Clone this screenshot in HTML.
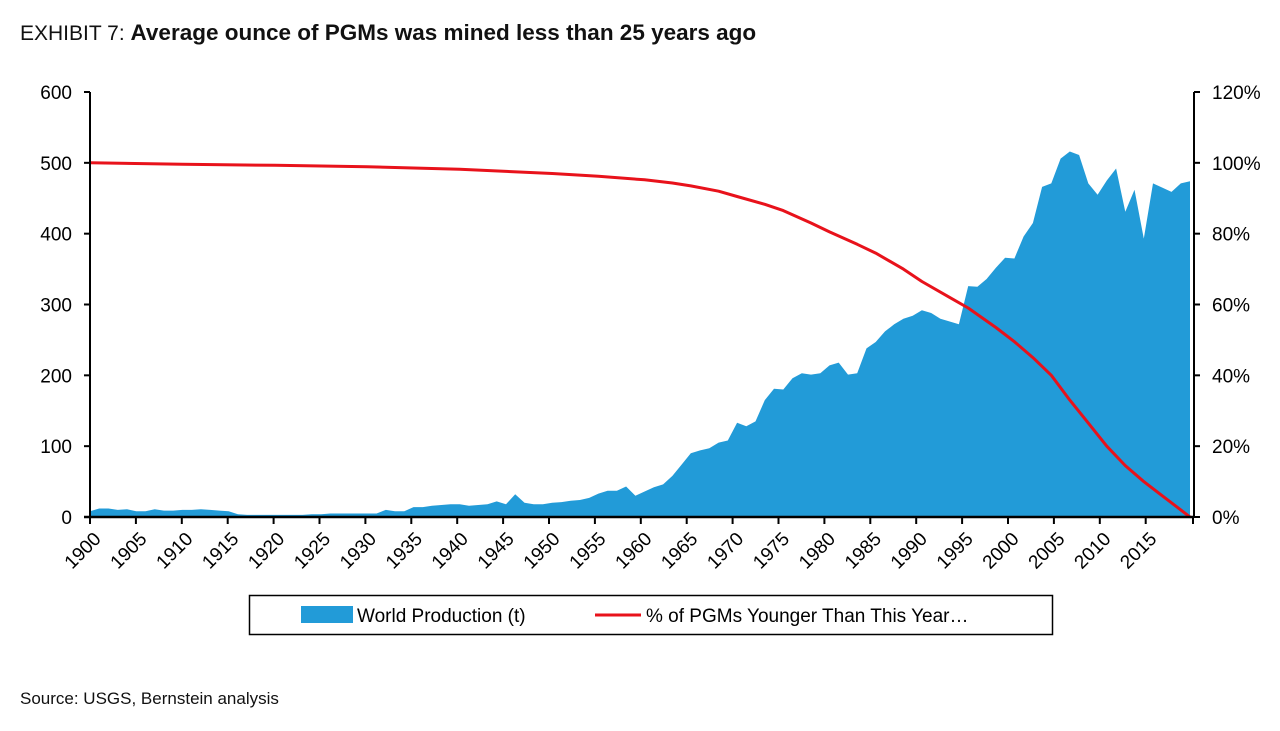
<!DOCTYPE html>
<html><head><meta charset="utf-8">
<style>
body{margin:0;background:#fff;width:1280px;height:726px;overflow:hidden;font-family:"Liberation Sans",Arial,sans-serif;}
svg text{font-family:"Liberation Sans",Arial,sans-serif;}
</style></head>
<body>
<svg width="1280" height="726" viewBox="0 0 1280 726">
  <text x="20" y="40" font-size="21" fill="#111"><tspan font-weight="normal">EXHIBIT 7: </tspan><tspan font-weight="bold" font-size="22.5">Average ounce of PGMs was mined less than 25 years ago</tspan></text>
  <g id="plot"></g>
  <g>
    <rect x="249.5" y="595.5" width="803" height="39" fill="#fff" stroke="#000" stroke-width="1.5"/>
    <rect x="301" y="606" width="52" height="17" fill="#229bd8"/>
    <text x="357" y="622" font-size="19" fill="#000">World Production (t)</text>
    <line x1="595" y1="615" x2="641" y2="615" stroke="#e8121b" stroke-width="3"/>
    <text x="646" y="622" font-size="19" fill="#000">% of PGMs Younger Than This Year…</text>
  </g>
  <text x="20" y="704" font-size="17" fill="#111">Source: USGS, Bernstein analysis</text>
</svg>
<script>
const years = [];
for (let y = 1900; y <= 2019; y++) years.push(y);
const production = [8,12,12,10,11,8,8,11,9,9,10,10,11,10,9,8,4,3,3,3,3,3,3,3,4,4,5,5,5,5,5,5,10,8,8,14,14,16,17,18,18,16,17,18,22,18,32,20,18,18,20,21,23,24,27,33,37,37,43,30,36,42,46,58,74,90,94,97,105,108,133,128,135,165,181,180,196,203,201,203,214,218,201,203,238,247,262,272,280,284,292,288,280,276,272,326,325,336,352,366,365,396,415,466,471,506,516,511,471,455,475,492,431,462,393,471,465,459,471,474];
const pctYears = [1900,1910,1920,1930,1940,1950,1955,1960,1963,1965,1968,1970,1973,1975,1978,1980,1983,1985,1988,1990,1993,1995,1998,2000,2002,2004,2006,2008,2010,2012,2014,2016,2018,2019];
const pctValues = [100,99.6,99.3,98.9,98.2,97,96.2,95.2,94.3,93.5,92,90.5,88.3,86.5,83,80.5,77,74.5,70,66.5,62,59,53.5,49.5,45,40,33,26.5,20,14.5,10,6,2,0];
const leftTicks = [0,100,200,300,400,500,600];
const rightTicks = ["0%","20%","40%","60%","80%","100%","120%"];
const xLabels = [1900,1905,1910,1915,1920,1925,1930,1935,1940,1945,1950,1955,1960,1965,1970,1975,1980,1985,1990,1995,2000,2005,2010,2015];

const NS = "http://www.w3.org/2000/svg";
const X0 = 90, X1 = 1190, Y0 = 517, Y1 = 92;
const xs = yr => X0 + (yr - 1900) / 119 * (X1 - X0);
const yL = v => Y0 - v / 600 * (Y0 - Y1);
const yR = p => Y0 - p / 120 * (Y0 - Y1);
const plot = document.getElementById('plot');
function mk(tag, attrs){const e=document.createElementNS(NS,tag);for(const k in attrs)e.setAttribute(k,attrs[k]);plot.appendChild(e);return e;}

let d = `M${xs(years[0])},${Y0}`;
years.forEach((y,i)=>{ d += ` L${xs(y).toFixed(1)},${yL(production[i]).toFixed(1)}`; });
d += ` L${xs(years[years.length-1])},${Y0} Z`;
const area = mk('path',{d:d,fill:'#229bd8'});



const pts = pctYears.map((y,i)=>`${xs(y).toFixed(1)},${yR(pctValues[i]).toFixed(1)}`).join(' ');
const line = mk('polyline',{points:pts,fill:'none',stroke:'#e8121b','stroke-width':3,'stroke-linejoin':'round'});



const la = mk('line',{x1:X0,y1:Y1,x2:X0,y2:Y0,stroke:'#000','stroke-width':2});


const ra = mk('line',{x1:1194,y1:Y1,x2:1194,y2:Y0,stroke:'#000','stroke-width':2});


const xa = mk('line',{x1:X0-6,y1:Y0,x2:1194,y2:Y0,stroke:'#000','stroke-width':2.5});



leftTicks.forEach((v,i)=>{
  const y = yL(v);
  mk('line',{x1:X0-6,y1:y,x2:X0,y2:y,stroke:'#000','stroke-width':2});
  const t = mk('text',{x:72,y:y+7,'font-size':19,'text-anchor':'end',fill:'#000'});
  t.textContent = v;
  
  
  mk('line',{x1:1194,y1:y,x2:1200,y2:y,stroke:'#000','stroke-width':2});
  const r = mk('text',{x:1212,y:y+7,'font-size':19,fill:'#000'});
  r.textContent = rightTicks[i];
  
  
});

xLabels.forEach(yr=>{
  const x = X0 + (yr-1900)*9.18;
  mk('line',{x1:x,y1:Y0,x2:x,y2:Y0+7,stroke:'#000','stroke-width':2});
  const ax = x+12, ay = Y0+23;
  const t = mk('text',{x:ax,y:ay,'font-size':19,'text-anchor':'end',fill:'#000',transform:`rotate(-45 ${ax} ${ay})`});
  t.textContent = yr;
  
  
});
mk('line',{x1:1193,y1:Y0,x2:1193,y2:Y0+7,stroke:'#000','stroke-width':2});
</script>
</body></html>
